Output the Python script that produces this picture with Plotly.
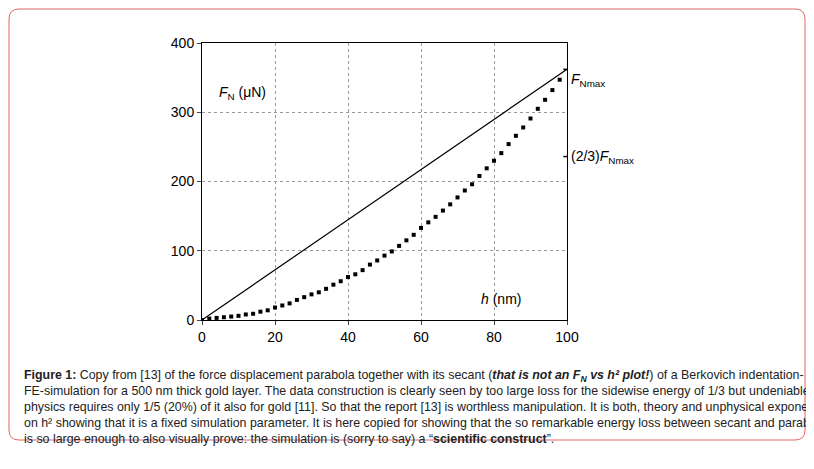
import plotly.graph_objects as go

# parabola points (h in nm, F in uN)
h_pts = [0, 2, 4, 6, 8, 10, 12, 14, 16, 18, 20, 22, 24, 26, 28, 30, 32, 34, 36, 38, 40,
         42, 44, 46, 48, 50, 52, 54, 56, 58, 60, 62, 64, 66, 68, 70, 72, 74, 76, 78, 80,
         82, 84, 86, 88, 90, 92, 94, 96, 98]
f_pts = [0, 2, 3, 4, 5, 6, 8, 9, 12, 14, 18, 21, 24, 29, 33, 37, 40, 45, 51, 56, 62,
         66, 72, 80, 86, 93, 99, 107, 115, 123, 133, 141, 149, 158, 167, 177, 187, 196, 208, 219, 230,
         241, 254, 266, 278, 291, 305, 318, 332, 347]

# secant
sec_h = [0, 100]
sec_f = [0, 362]
f_max = 362
f_two_thirds = 236

caption = ("<b>Figure 1:</b> Copy from [13] of the force displacement parabola together with its secant (<b><i>that is not an F<sub>N</sub> vs h² plot!</i></b>) of a Berkovich indentation-<br>"
           "FE-simulation for a 500 nm thick gold layer. The data construction is clearly seen by too large loss for the sidewise energy of 1/3 but undeniable<br>"
           "physics requires only 1/5 (20%) of it also for gold [11]. So that the report [13] is worthless manipulation. It is both, theory and unphysical exponent<br>"
           "on h² showing that it is a fixed simulation parameter. It is here copied for showing that the so remarkable energy loss between secant and parabola<br>"
           "is so large enough to also visually prove: the simulation is (sorry to say) a “<b>scientific construct</b>”.")

fig = go.Figure()
fig.add_trace(go.Scatter(x=sec_h, y=sec_f, mode="lines", line=dict(color="black", width=1.2)))
fig.add_trace(go.Scatter(x=h_pts, y=f_pts, mode="markers",
                         marker=dict(symbol="square", size=4, color="black")))

# page body adds an 8px offset, so work in screen pixels and shift
OFF = 8
W, H = 814, 469
l, t = 202 - OFF, 43 - OFF
pw, ph = 365, 277
r, b = W - l - pw, H - t - ph
def px(x): return (x - OFF - l) / pw
def py(y): return 1 - (y - OFF - t) / ph

# rounded red frame around figure + caption
x0, x1, y0, y1 = px(9), px(805), py(440), py(9)
rx, ry = 10 / pw, 10 / ph
path = (f"M {x0+rx},{y1} L {x1-rx},{y1} Q {x1},{y1} {x1},{y1-ry} L {x1},{y0+ry} Q {x1},{y0} {x1-rx},{y0} "
        f"L {x0+rx},{y0} Q {x0},{y0} {x0},{y0+ry} L {x0},{y1-ry} Q {x0},{y1} {x0+rx},{y1} Z")
fig.add_shape(type="path", path=path, xref="paper", yref="paper", line=dict(color="#e06666", width=1))

for yv in [f_max, f_two_thirds]:
    fig.add_shape(type="line", x0=99, x1=101.5, y0=yv, y1=yv, line=dict(color="black", width=1.5))

font = "Liberation Sans, Arial, sans-serif"
fig.add_annotation(x=4, y=328, text="<i>F</i><sub>N</sub> (μN)", showarrow=False, xanchor="left",
                   font=dict(size=14, family=font, color="black"))
fig.add_annotation(x=76, y=30, text="<i>h</i> (nm)", showarrow=False, xanchor="left",
                   font=dict(size=14, family=font, color="black"))
fig.add_annotation(x=1.005, y=f_max / 400, xref="paper", yref="paper", text="<i>F</i><sub>Nmax</sub>",
                   showarrow=False, xanchor="left", font=dict(size=14, family=font, color="black"))
fig.add_annotation(x=1.005, y=f_two_thirds / 400, xref="paper", yref="paper",
                   text="(2/3)<i>F</i><sub>Nmax</sub>", showarrow=False, xanchor="left",
                   font=dict(size=14, family=font, color="black"))
fig.add_annotation(x=px(22), y=py(366), xref="paper", yref="paper", text=caption, showarrow=False,
                   xanchor="left", yanchor="top", align="left",
                   font=dict(size=12.4, family=font, color="#222"))

fig.update_xaxes(range=[0, 100], tickvals=[0, 20, 40, 60, 80, 100], showgrid=True,
                 gridcolor="#999", griddash="dot", showline=True, linecolor="black", mirror=True,
                 ticks="outside", ticklen=4, zeroline=False, tickfont=dict(size=14, family=font, color="black"))
fig.update_yaxes(range=[0, 400], tickvals=[0, 100, 200, 300, 400], showgrid=True,
                 gridcolor="#999", griddash="dot", showline=True, linecolor="black", mirror=True,
                 ticks="outside", ticklen=4, zeroline=False, tickfont=dict(size=14, family=font, color="black"))
fig.update_layout(width=W, height=H, margin=dict(l=l, r=r, t=t, b=b), showlegend=False,
                  plot_bgcolor="white", paper_bgcolor="white")
fig.write_html("out.html")
